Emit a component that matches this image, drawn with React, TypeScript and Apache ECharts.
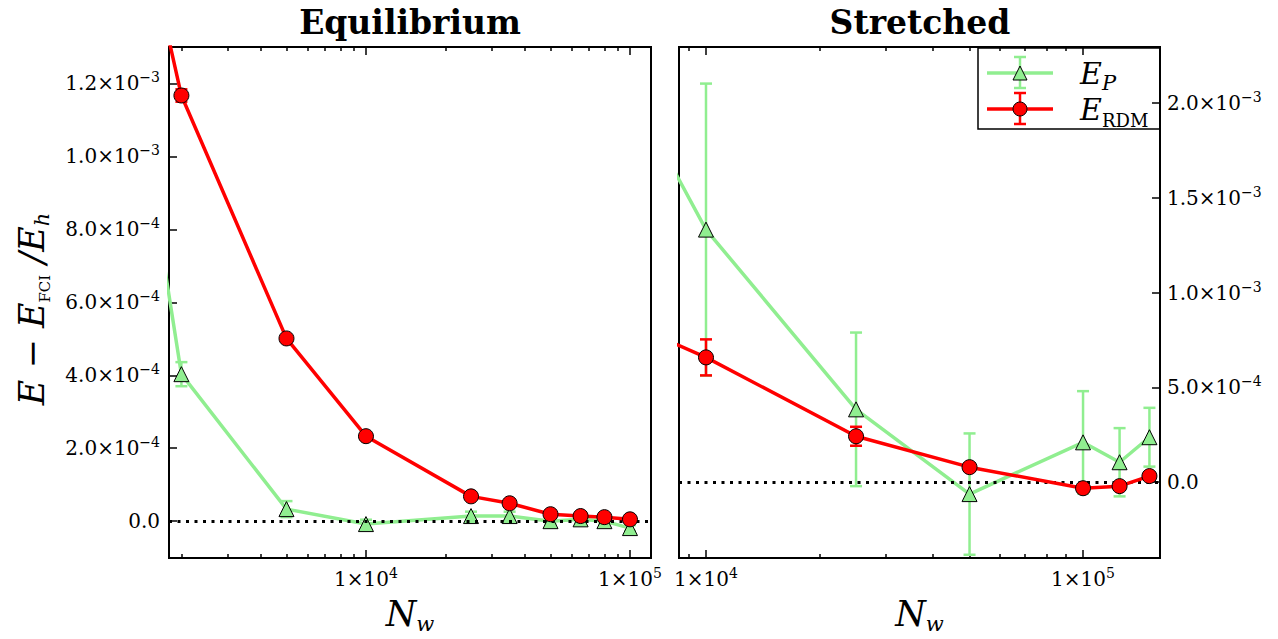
import React, { useEffect, useRef } from 'react';
import * as echarts from 'echarts';

// ---------- data ----------
const eqN = [1000, 2000, 5000, 10000, 25000, 35000, 50000, 65000, 80000, 100000];
const eqP = [1.79e-3, 4.03e-4, 0.33e-4, -0.08e-4, 0.14e-4, 0.14e-4, 0.0, 0.05e-4, 0.0, -0.19e-4];
const eqPErr = [0.5e-4, 0.33e-4, 0.22e-4, 0.12e-4, 0.12e-4, 0.12e-4, 0.08e-4, 0.08e-4, 0.08e-4, 0.08e-4];
const eqRDM = [2.14e-3, 11.67e-4, 5.01e-4, 2.33e-4, 0.68e-4, 0.49e-4, 0.19e-4, 0.14e-4, 0.11e-4, 0.05e-4];
const eqRDMErr = [0.2e-4, 0.17e-4, 0.05e-4, 0.04e-4, 0.04e-4, 0.04e-4, 0.03e-4, 0.03e-4, 0.03e-4, 0.03e-4];

const stN = [5000, 10000, 25000, 50000, 100000, 125000, 150000];
const stP = [2.44e-3, 1.332e-3, 0.384e-3, -0.063e-3, 0.21e-3, 0.105e-3, 0.237e-3];
const stPErr = [0.9e-3, 0.77e-3, 0.405e-3, 0.32e-3, 0.27e-3, 0.18e-3, 0.155e-3];
const stRDM = [0.92e-3, 0.658e-3, 0.242e-3, 0.079e-3, -0.032e-3, -0.021e-3, 0.032e-3];
const stRDMErr = [0.1e-3, 0.095e-3, 0.05e-3, 0.02e-3, 0.015e-3, 0.015e-3, 0.015e-3];

const eqXMajor = [10000, 100000];
const eqXMinor = [2000, 3000, 4000, 5000, 6000, 7000, 8000, 9000, 20000, 30000, 40000, 50000, 60000, 70000, 80000, 90000];
const stXMajor = [10000, 100000];
const stXMinor = [9000, 20000, 30000, 40000, 50000, 60000, 70000, 80000, 90000];
const eqYTicks = [0, 2e-4, 4e-4, 6e-4, 8e-4, 1e-3, 1.2e-3];
const stYTicks = [0, 5e-4, 1e-3, 1.5e-3, 2e-3];

const GREEN = '#90EE90';
const RED = '#FF0000';
const FONT = 'DejaVu Serif';

const tickRich = {
  m: { fontFamily: FONT, fontSize: 20, color: '#000', lineHeight: 26 },
  e: { fontFamily: FONT, fontSize: 14, color: '#000', lineHeight: 14, verticalAlign: 'top' },
};

function fmtY(v: number) {
  if (Math.abs(v) < 1e-12) return '{m|0.0}';
  const ex = Math.floor(Math.log10(Math.abs(v)) + 1e-9);
  const m = v / Math.pow(10, ex);
  return `{m|${m.toFixed(1)}×10}{e|−${Math.abs(ex)}}`;
}
function fmtX(v: number) {
  const ex = Math.round(Math.log10(v));
  return `{m|1×10}{e|${ex}}`;
}

const nameRich = {
  i: { fontFamily: FONT, fontStyle: 'italic', fontSize: 35, color: '#000', lineHeight: 40 },
  r: { fontFamily: FONT, fontSize: 35, color: '#000', lineHeight: 40 },
  s: { fontFamily: FONT, fontSize: 15, color: '#000', lineHeight: 14, verticalAlign: 'bottom' },
  si: { fontFamily: FONT, fontStyle: 'italic', fontSize: 21, color: '#000', lineHeight: 18, verticalAlign: 'bottom' },
};

const tickLine = { color: '#000', width: 1.5 };

function xAxes(g: number, min: number, max: number, major: number[], minor: number[]) {
  const base = {
    type: 'log', gridIndex: g, min, max, logBase: 10,
    axisLine: { show: true, onZero: false, lineStyle: { color: '#000', width: 2 } },
    splitLine: { show: false },
  };
  const tick = (vals: number[], len: number) => ({
    show: true, inside: true, length: len, customValues: vals, lineStyle: tickLine,
  });
  return [
    {
      ...base, position: 'bottom',
      axisTick: tick(major, 8),
      axisLabel: { show: true, customValues: major, margin: 8, formatter: fmtX, rich: tickRich },
      name: '{i|N}{si|w}', nameLocation: 'middle', nameGap: 36,
      nameTextStyle: { rich: nameRich },
    },
    { ...base, position: 'bottom', axisTick: tick(minor, 4), axisLabel: { show: false } },
    { ...base, position: 'top', axisTick: tick(major, 8), axisLabel: { show: false } },
    { ...base, position: 'top', axisTick: tick(minor, 4), axisLabel: { show: false } },
  ];
}

function errSeries(g: number, N: number[], v: number[], e: number[], color: string, z: number) {
  return {
    type: 'custom', xAxisIndex: g * 4, yAxisIndex: g, z, clip: true, silent: true,
    data: N.map((n, i) => [n, v[i], e[i]]),
    encode: { x: 0, y: 1 },
    renderItem: (params: any, api: any) => {
      const x = api.value(0), y = api.value(1), er = api.value(2);
      const t = api.coord([x, y + er]);
      const b = api.coord([x, y - er]);
      const hw = 6;
      const st = { stroke: color, lineWidth: 2.5 };
      return {
        type: 'group',
        children: [
          { type: 'line', shape: { x1: t[0], y1: t[1], x2: b[0], y2: b[1] }, style: st },
          { type: 'line', shape: { x1: t[0] - hw, y1: t[1], x2: t[0] + hw, y2: t[1] }, style: st },
          { type: 'line', shape: { x1: b[0] - hw, y1: b[1], x2: b[0] + hw, y2: b[1] }, style: st },
        ],
      };
    },
  };
}

function lineSeries(g: number, N: number[], v: number[], color: string, symbol: string, z: number, zeroLine: boolean) {
  const s: any = {
    type: 'line', xAxisIndex: g * 4, yAxisIndex: g, z,
    data: N.map((n, i) => [n, v[i]]),
    symbol, symbolSize: symbol === 'circle' ? 15 : 15,
    showAllSymbol: true,
    lineStyle: { color, width: 3.5 },
    itemStyle: { color, borderColor: '#000', borderWidth: 1 },
    clip: true, silent: true,
  };
  if (zeroLine) {
    s.markLine = {
      silent: true, symbol: ['none', 'none'], label: { show: false },
      lineStyle: { color: '#000', width: 3, type: [3, 5.5] },
      data: [{ yAxis: 0 }],
    };
  }
  return s;
}

function yAxis(g: number, min: number, max: number, ticks: number[], pos: string, margin: number) {
  return {
    type: 'value', gridIndex: g, min, max, position: pos,
    axisLine: { show: true, onZero: false, lineStyle: { color: '#000', width: 2 } },
    splitLine: { show: false },
    axisTick: { show: true, inside: true, length: 8, customValues: ticks, lineStyle: tickLine },
    axisLabel: { show: true, customValues: ticks, margin, formatter: fmtY, rich: tickRich },
  };
}

export default function App() {
  const ref = useRef<HTMLDivElement>(null);
  useEffect(() => {
    document.body.style.margin = '0';
    if (!ref.current) return;
    const chart = echarts.init(ref.current, undefined, { renderer: 'svg' });
    const gridBase = { show: true, borderColor: '#000', borderWidth: 2, backgroundColor: 'transparent', containLabel: false };
    const legX = 978, legY = 48;
    const option: any = {
      animation: false,
      backgroundColor: '#fff',
      grid: [
        { ...gridBase, left: 169, top: 47, width: 482, height: 512 },
        { ...gridBase, left: 679, top: 47, width: 481, height: 512 },
      ],
      xAxis: [
        ...xAxes(0, 1795, 120100, eqXMajor, eqXMinor),
        ...xAxes(1, 8480, 160000, stXMajor, stXMinor),
      ],
      yAxis: [
        yAxis(0, -1.01e-4, 1.30e-3, eqYTicks, 'left', 9),
        yAxis(1, -0.4e-3, 2.295e-3, stYTicks, 'right', 7),
      ],
      series: [
        errSeries(0, eqN, eqP, eqPErr, GREEN, 2),
        lineSeries(0, eqN, eqP, GREEN, 'triangle', 3, true),
        errSeries(0, eqN, eqRDM, eqRDMErr, RED, 4),
        lineSeries(0, eqN, eqRDM, RED, 'circle', 5, false),
        errSeries(1, stN, stP, stPErr, GREEN, 2),
        lineSeries(1, stN, stP, GREEN, 'triangle', 3, true),
        errSeries(1, stN, stRDM, stRDMErr, RED, 4),
        lineSeries(1, stN, stRDM, RED, 'circle', 5, false),
      ],
      graphic: [
        { type: 'text', x: 410, y: 22, z: 10, style: { text: 'Equilibrium', align: 'center', verticalAlign: 'middle', fontFamily: FONT, fontWeight: 'bold', fontSize: 33, fill: '#000' } },
        { type: 'text', x: 920, y: 22, z: 10, style: { text: 'Stretched', align: 'center', verticalAlign: 'middle', fontFamily: FONT, fontWeight: 'bold', fontSize: 33, fill: '#000' } },
        {
          type: 'text', x: 32, y: 309, rotation: Math.PI / 2, z: 10,
          style: {
            text: '{i|E}{r| − }{i|E}{s|FCI}{i| /E}{si|h}', align: 'center', verticalAlign: 'middle',
            rich: nameRich,
          },
        },
        {
          type: 'group', x: legX, y: legY, z: 20,
          children: [
            { type: 'rect', shape: { x: 0, y: 0, width: 182, height: 81 }, style: { fill: '#fff', stroke: '#000', lineWidth: 1.5 } },
            { type: 'line', shape: { x1: 9, y1: 25, x2: 75, y2: 25 }, style: { stroke: GREEN, lineWidth: 3.5 } },
            { type: 'line', shape: { x1: 42, y1: 9, x2: 42, y2: 40 }, style: { stroke: GREEN, lineWidth: 2.5 } },
            { type: 'line', shape: { x1: 36, y1: 9, x2: 48, y2: 9 }, style: { stroke: GREEN, lineWidth: 2.5 } },
            { type: 'line', shape: { x1: 36, y1: 40, x2: 48, y2: 40 }, style: { stroke: GREEN, lineWidth: 2.5 } },
            { type: 'polygon', shape: { points: [[42, 18], [49, 32], [35, 32]] }, style: { fill: GREEN, stroke: '#000', lineWidth: 1 } },
            { type: 'line', shape: { x1: 9, y1: 61, x2: 75, y2: 61 }, style: { stroke: RED, lineWidth: 3.5 } },
            { type: 'line', shape: { x1: 42, y1: 45, x2: 42, y2: 76 }, style: { stroke: RED, lineWidth: 2.5 } },
            { type: 'line', shape: { x1: 36, y1: 45, x2: 48, y2: 45 }, style: { stroke: RED, lineWidth: 2.5 } },
            { type: 'line', shape: { x1: 36, y1: 76, x2: 48, y2: 76 }, style: { stroke: RED, lineWidth: 2.5 } },
            { type: 'circle', shape: { cx: 42, cy: 61, r: 7 }, style: { fill: RED, stroke: '#000', lineWidth: 1 } },
            { type: 'text', x: 102, y: 25, style: { text: '{i|E}{si|P}', verticalAlign: 'middle', align: 'left', rich: { ...nameRich, i: { ...nameRich.i, fontSize: 30 } } } },
            { type: 'text', x: 102, y: 61, style: { text: '{i|E}{s|RDM}', verticalAlign: 'middle', align: 'left', rich: { ...nameRich, i: { ...nameRich.i, fontSize: 30 }, s: { ...nameRich.s, fontSize: 18, lineHeight: 16 } } } },
          ],
        },
      ],
    };
    chart.setOption(option);
    return () => chart.dispose();
  }, []);
  return <div ref={ref} style={{ width: 1278, height: 639 }} />;
}
